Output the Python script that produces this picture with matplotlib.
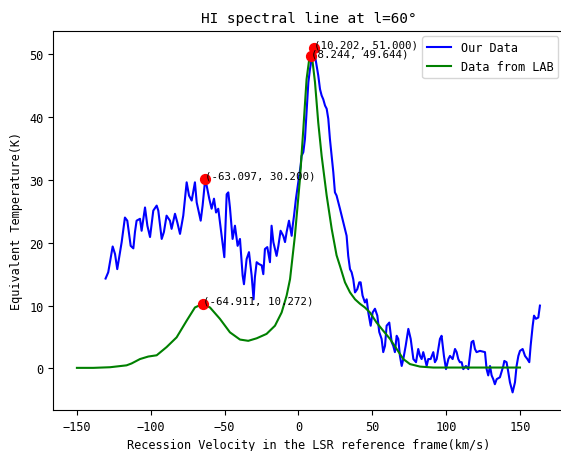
import matplotlib
matplotlib.use("Agg")
import matplotlib.pyplot as plt
import matplotlib.font_manager as fm

# ---------------- data ----------------
our_v = [-130.6, -128.8, -125.8, -124.2, -122.7, -119.7, -117.5, -115.9, -113.6, -111.8,
         -110.7, -109.6, -107.3, -106.2, -103.9, -102.3, -100.5, -98.3, -96.0, -94.9,
         -92.6, -91.1, -89.3, -87.0, -85.9, -83.6, -82.0, -80.2, -78.0, -75.7,
         -74.1, -72.3, -70.1, -68.9, -66.2, -64.9, -63.3, -63.097, -60.4, -58.8,
         -57.2, -55.8, -54.3, -52.0, -50.2, -48.6, -47.5, -46.4, -44.6, -43.0,
         -41.2, -39.6, -37.8, -36.9, -35.1, -33.5, -31.7, -30.4, -29.5, -28.3,
         -26.7, -24.9, -23.8, -22.7, -21.1, -19.3, -18.2, -17.0, -14.8, -13.6,
         -12.1, -10.3, -9.1, -8.0, -6.4, -4.6, -3.9, -3.0, -1.7, -0.1,
         1.5, 2.1, 3.3, 4.4, 5.5, 6.7, 7.8, 8.9, 10.202, 11.2,
         12.3, 13.4, 14.6, 15.7, 16.8, 18.0, 19.1, 20.2, 21.3, 22.5,
         23.6, 24.7, 25.8, 27.0, 28.1, 30.4, 31.5, 32.6, 33.7, 34.9,
         36.0, 37.1, 38.3, 39.8, 41.2, 42.1, 43.4, 45.0, 46.2, 47.3,
         48.9, 50.2, 51.8, 53.4, 54.7, 56.3, 57.4, 58.6, 59.7, 61.5,
         63.1, 64.2, 65.3, 66.5, 67.6, 68.7, 69.9, 71.0, 72.6, 74.4,
         76.0, 77.8, 79.6, 81.1, 82.3, 83.4, 84.5, 85.7, 86.8, 87.9,
         89.5, 91.3, 92.4, 93.6, 95.8, 96.9, 98.5, 99.9, 101.5, 102.6,
         104.4, 106.0, 107.1, 108.2, 109.3, 110.5, 111.6, 113.4, 115.0, 117.2,
         118.4, 119.5, 120.6, 122.9, 126.3, 127.4, 128.5, 129.7, 130.8, 131.9,
         133.0, 134.2, 136.4, 138.7, 139.4, 140.9, 142.1, 143.2, 145.0, 146.6,
         147.7, 148.9, 150.0, 151.8, 153.4, 155.0, 156.3, 157.2, 158.6, 159.5,
         160.8, 162.4, 163.5]
our_T = [14.3, 15.3, 19.4, 18.2, 15.8, 20.1, 24.0, 23.5, 19.5, 19.1,
         21.7, 23.5, 23.8, 21.9, 25.6, 22.7, 20.9, 25.1, 25.9, 25.1,
         20.6, 21.7, 24.3, 23.5, 22.2, 24.6, 23.2, 21.4, 24.3, 29.6,
         27.5, 26.7, 29.6, 26.4, 23.5, 25.9, 29.6, 30.2, 27.0, 25.4,
         27.0, 24.8, 25.4, 21.1, 17.7, 27.7, 28.0, 25.6, 20.6, 22.7,
         19.5, 20.6, 14.8, 13.4, 17.4, 18.5, 14.8, 11.0, 14.5, 16.9,
         16.6, 16.4, 15.0, 19.0, 19.3, 16.9, 22.7, 20.1, 17.9, 19.5,
         21.9, 21.1, 20.1, 21.7, 23.5, 21.1, 22.7, 24.3, 27.0, 29.6,
         32.3, 33.8, 34.4, 36.5, 40.7, 45.5, 47.6, 49.2, 51.0, 49.7,
         48.1, 46.6, 44.4, 43.4, 42.8, 41.8, 41.3, 39.7, 36.5, 33.8,
         31.2, 28.0, 27.5, 26.4, 25.4, 23.2, 22.2, 21.1, 17.9, 15.8,
         15.3, 14.2, 12.1, 12.6, 13.7, 13.7, 11.6, 10.5, 11.0, 8.9,
         6.8, 8.9, 9.5, 8.4, 5.8, 4.7, 2.6, 3.6, 6.8, 7.3,
         4.2, 3.6, 2.6, 5.2, 4.7, 2.0, 0.4, 1.5, 3.6, 6.3,
         4.7, 1.5, 1.0, 3.1, 2.0, 1.5, 2.6, 1.5, 0.4, 1.5,
         1.5, 2.6, 1.0, 1.5, 4.7, 5.2, 2.0, -0.1, 1.5, 2.0,
         1.5, 3.1, 2.6, 1.5, 1.0, 1.0, -0.1, 0.4, -0.1, 4.2,
         4.4, 3.1, 2.6, 2.8, 2.6, -0.1, -1.1, 0.4, -1.1, -1.7,
         -2.5, -1.7, -1.4, 0.4, 1.2, 1.0, -0.6, -2.2, -3.8, -2.2,
         0.4, 2.0, 2.8, 3.1, 2.0, 1.5, 1.0, 3.6, 6.8, 8.4,
         7.9, 8.1, 10.0]

lab_v = [-150.0, -138.9, -127.6, -116.4, -113.0, -107.3, -101.7, -96.0, -89.3, -82.5,
         -75.7, -70.1, -64.911, -59.9, -53.2, -46.4, -39.6, -34.0, -28.3, -21.6,
         -15.9, -11.4, -8.0, -5.7, -2.4, 1.0, 3.3, 5.5, 7.3, 8.244,
         9.6, 11.2, 13.4, 15.7, 19.1, 22.5, 25.8, 28.1, 31.5, 34.9,
         38.3, 41.6, 45.0, 48.4, 52.9, 57.4, 62.0, 66.5, 71.0, 75.5,
         82.3, 91.3, 118.4, 150.0]
lab_T = [0.1, 0.1, 0.2, 0.5, 0.8, 1.5, 1.9, 2.1, 3.4, 4.95,
         7.6, 9.7, 10.272, 9.7, 7.9, 5.75, 4.6, 4.4, 4.8, 5.5,
         6.8, 8.9, 11.6, 14.2, 21.1, 30.1, 38.1, 46.0, 49.2, 49.644,
         48.7, 45.5, 39.1, 33.8, 27.5, 22.2, 18.0, 16.3, 13.7, 12.1,
         11.0, 10.3, 9.7, 8.9, 7.3, 6.0, 4.7, 3.1, 1.5, 0.7,
         0.3, 0.15, 0.15, 0.15]

peak_v = [-63.097, 10.202, 8.244, -64.911]
peak_T = [30.200, 51.000, 49.644, 10.272]

# ---------------- fonts ----------------
names = {f.name for f in fm.fontManager.ttflist}
if 'Noto Sans Mono CJK SC' in names:
    fam, k = 'Noto Sans Mono CJK SC', 1.0
else:
    fam, k = 'DejaVu Sans Mono', 0.86
plt.rcParams['font.family'] = [fam, 'DejaVu Sans']
plt.rcParams['font.size'] = 10 * k
plt.rcParams['axes.unicode_minus'] = True

W, H = 561, 452
fig = plt.figure(figsize=(W / 100, H / 100), dpi=100)
L, R, B, T = 53, 564, 411, 31.5
ax = fig.add_axes([L / W, 1 - B / H, (R - L) / W, (B - T) / H])

ax.plot(our_v, our_T, color='blue', lw=1.5, label='Our Data')
ax.plot(lab_v, lab_T, color='green', lw=1.5, label='Data from LAB')
ax.scatter(peak_v, peak_T, color='red', s=50, zorder=3)
for pv, pt in zip(peak_v, peak_T):
    ax.text(pv, pt, '(%.3f, %.3f)' % (pv, pt), fontsize=9 * k)

ax.set_xlim(-166.2, 179.8)
ax.set_ylim(-6.6, 53.74)
ax.set_xticks([-150, -100, -50, 0, 50, 100, 150])
ax.set_yticks([0, 10, 20, 30, 40, 50])
ax.set_title('HI spectral line at l=60°', fontsize=12 * k)
ax.set_xlabel('Recession Velocity in the LSR reference frame(km/s)')
ax.set_ylabel('Equivalent Temperature(K)')
ax.legend(loc='upper right')

fig.savefig('out.png', dpi=100)
